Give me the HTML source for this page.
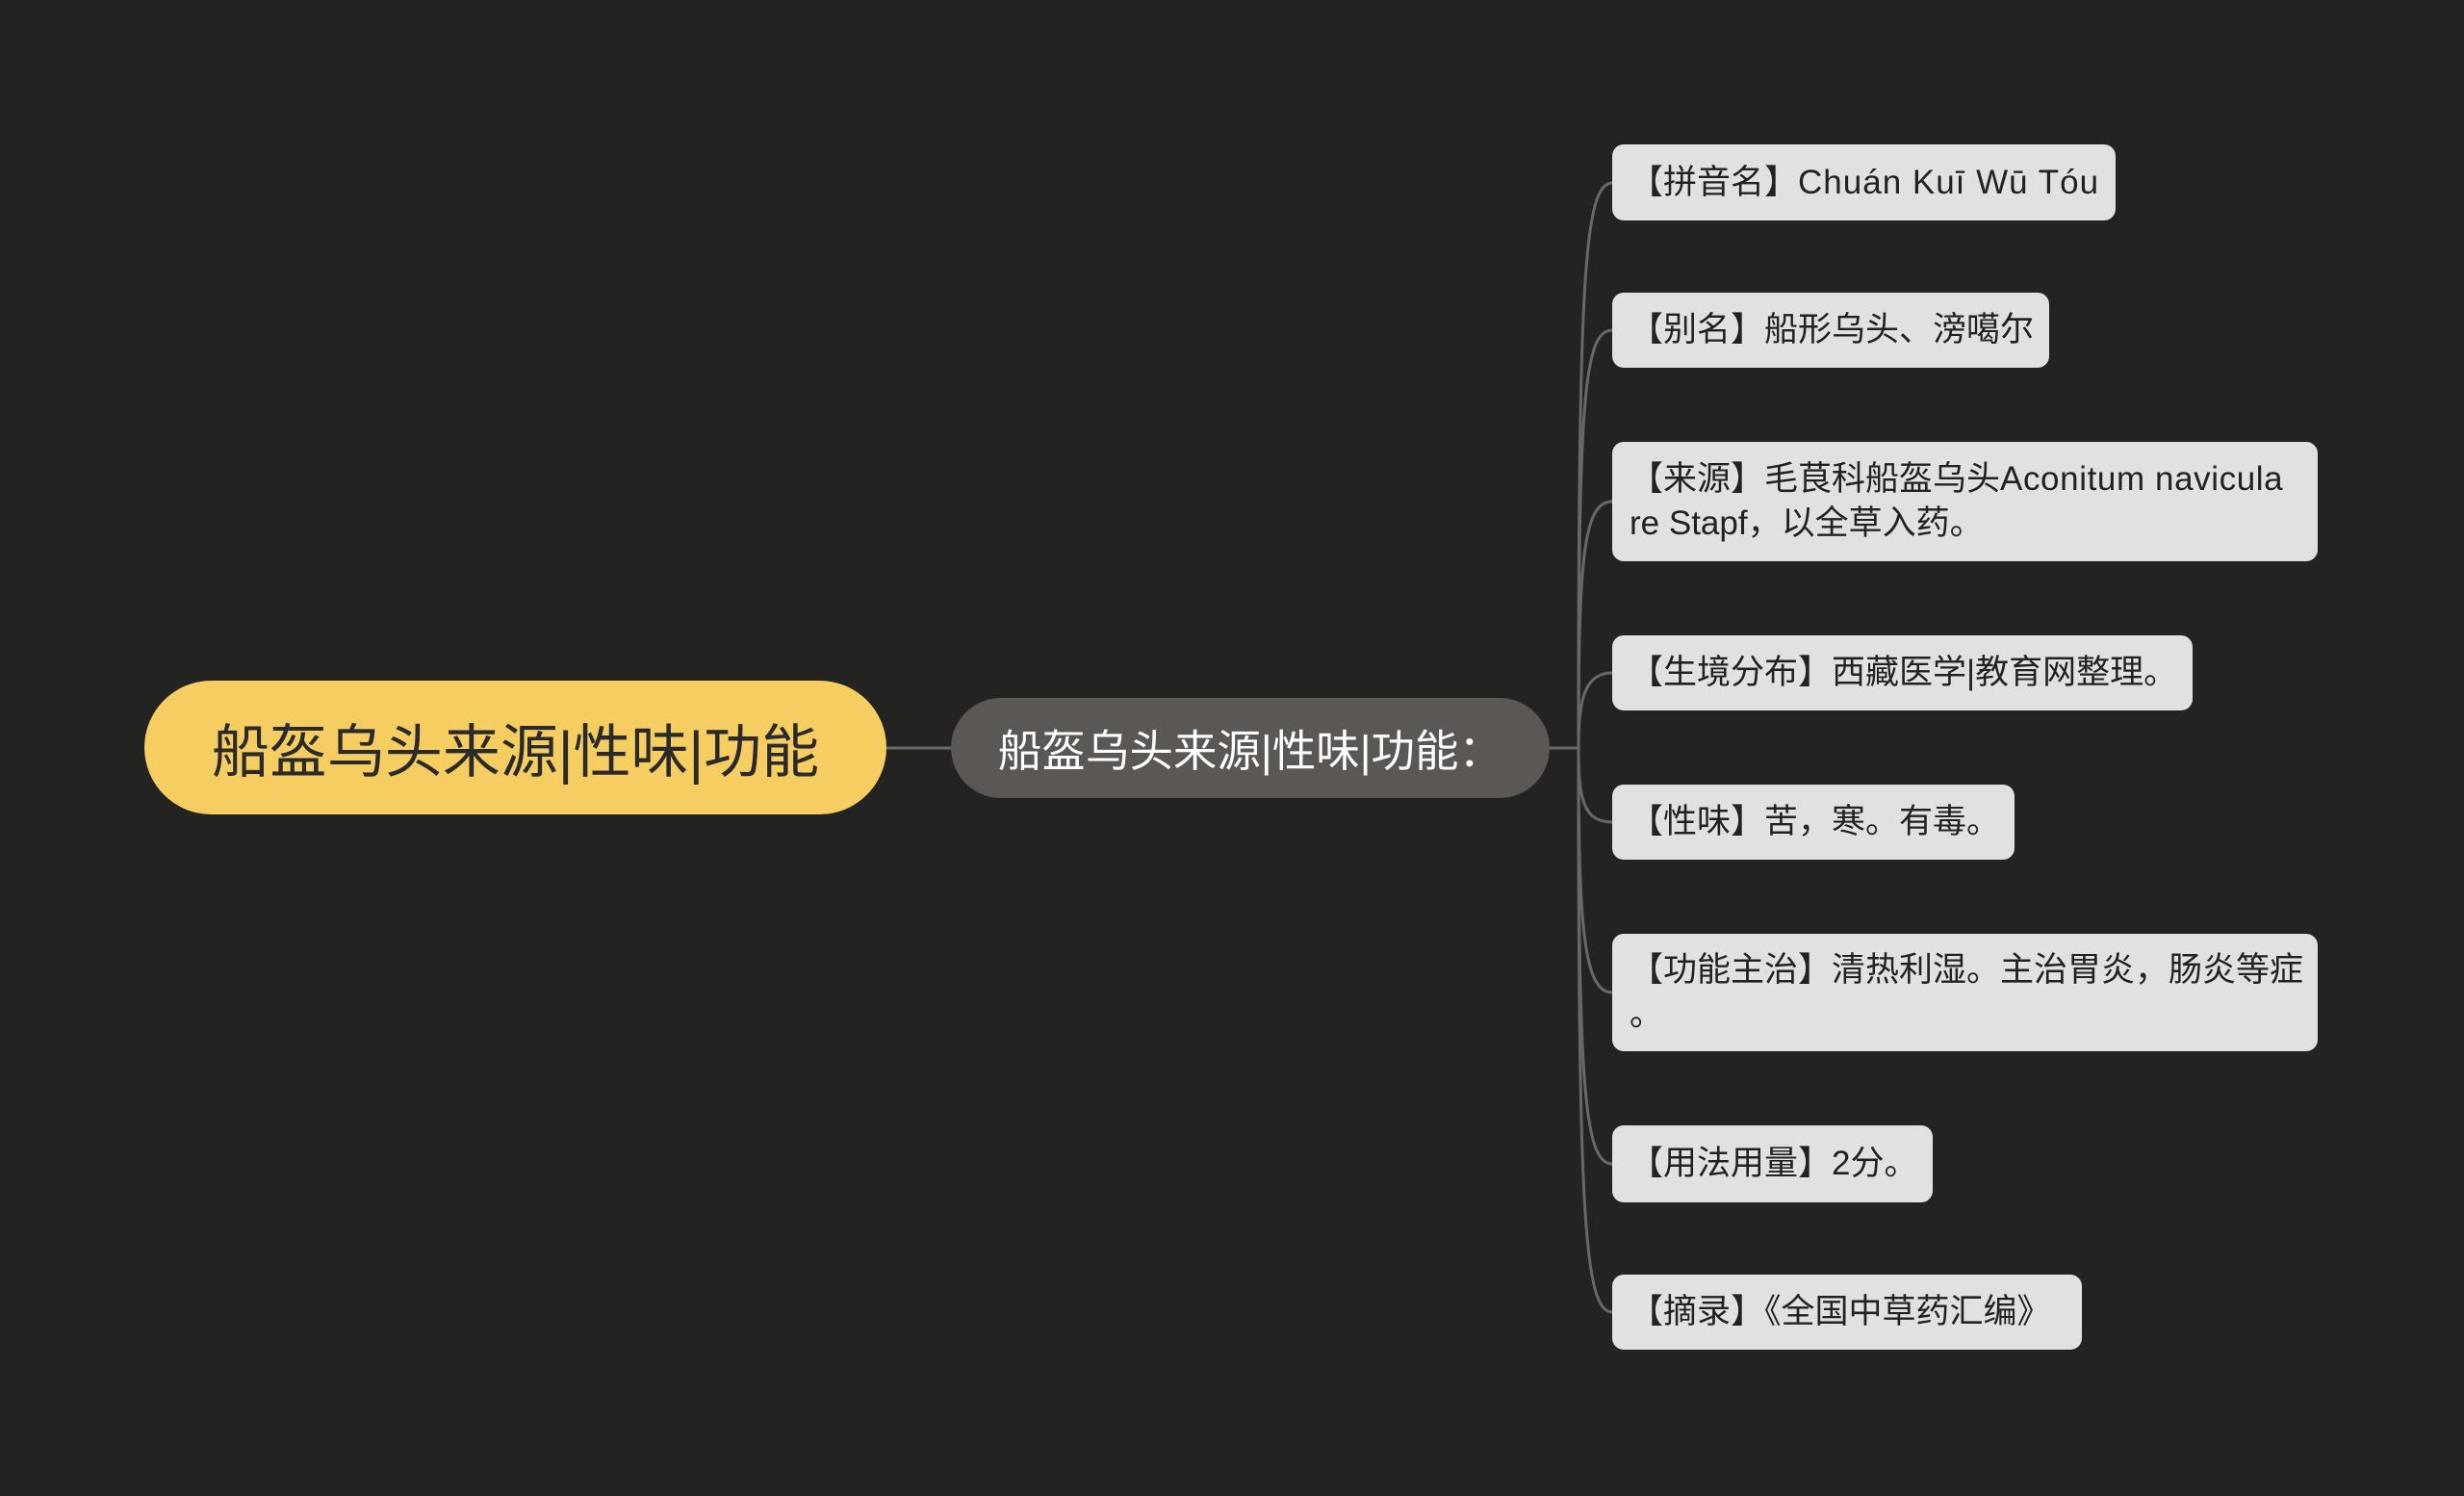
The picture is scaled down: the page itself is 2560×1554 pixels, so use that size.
<!DOCTYPE html>
<html><head><meta charset="utf-8"><style>
html,body{margin:0;padding:0;background:#232321;}
body{width:2560px;height:1554px;position:relative;overflow:hidden;font-family:"Liberation Sans","Noto Sans CJK SC",sans-serif;}
.n{position:absolute;box-sizing:border-box;}
.root{left:150px;top:707px;width:771px;height:139px;background:#f5cd60;border-radius:70px;color:#2a2a2a;font-size:60px;display:flex;align-items:center;justify-content:center;}
.mid{left:988px;top:725px;width:622px;height:104px;background:#5a5754;border-radius:52px;color:#fff;font-size:45.5px;display:flex;align-items:center;justify-content:center;}
.leaf{left:1675px;background:#e1e1df;border-radius:12px;color:#222;font-size:35px;line-height:46px;padding:0 18px;display:flex;align-items:center;white-space:nowrap;}
svg{position:absolute;left:0;top:0;}
</style></head><body>
<svg width="2560" height="1554" fill="none" stroke="#6a6866" stroke-width="3">
<path d="M921 777 L988 777"/>
<path d="M1610 777 L1640 777"/>
<path d="M1640 777 C1640 300 1645 190 1675 190"/>
<path d="M1640 777 C1640 420 1645 343 1675 343"/>
<path d="M1640 777 C1640 580 1645 521 1675 521"/>
<path d="M1640 777 C1640 730 1645 699 1675 699"/>
<path d="M1640 777 C1640 830 1645 854 1675 854"/>
<path d="M1640 777 C1640 960 1645 1031 1675 1031"/>
<path d="M1640 777 C1640 1120 1645 1209 1675 1209"/>
<path d="M1640 777 C1640 1250 1645 1363 1675 1363"/>
</svg>
<div class="n root">船盔乌头来源|性味|功能</div>
<div class="n mid">船盔乌头来源|性味|功能：</div>
<div class="n leaf" style="top:150px;width:523px;height:79px;"><div>【拼音名】<span style="letter-spacing:1px">Chuán Kuī Wū Tóu</span></div></div>
<div class="n leaf" style="top:304px;width:454px;height:78px;"><div>【别名】船形乌头、滂噶尔</div></div>
<div class="n leaf" style="top:459px;width:733px;height:124px;"><div>【来源】毛茛科船盔乌头<span style="letter-spacing:0.6px">Aconitum navicula</span><br>re Stapf，以全草入药。</div></div>
<div class="n leaf" style="top:660px;width:603px;height:78px;"><div>【生境分布】西藏医学|教育网整理。</div></div>
<div class="n leaf" style="top:815px;width:418px;height:78px;"><div>【性味】苦，寒。有毒。</div></div>
<div class="n leaf" style="top:970px;width:733px;height:122px;"><div>【功能主治】清热利湿。主治胃炎，肠炎等症<br>。</div></div>
<div class="n leaf" style="top:1169px;width:333px;height:80px;"><div>【用法用量】2分。</div></div>
<div class="n leaf" style="top:1324px;width:488px;height:78px;"><div>【摘录】《全国中草药汇编》</div></div>
</body></html>
